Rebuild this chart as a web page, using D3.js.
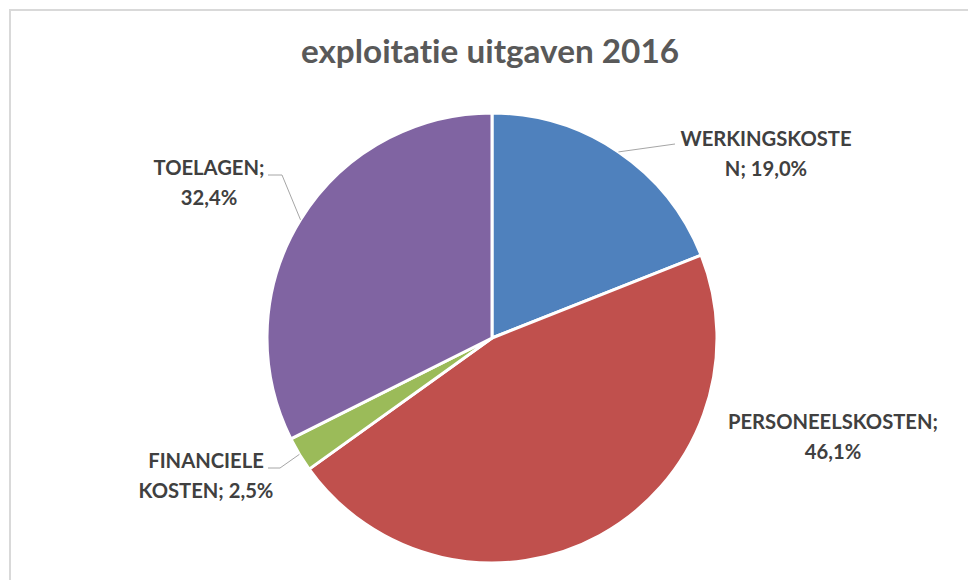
<!DOCTYPE html>
<html><head><meta charset="utf-8">
<script src="https://cdn.jsdelivr.net/npm/d3@7"></script>
<style>html,body{margin:0;padding:0;background:#fff;}svg{display:block;}text{font-variant-ligatures:none;font-feature-settings:"liga" 0,"clig" 0;}</style>
</head><body>
<svg id="chart" width="968" height="580"></svg>
<script>
const title = "exploitatie uitgaven 2016";
const categories = ["WERKINGSKOSTEN", "PERSONEELSKOSTEN", "FINANCIELE KOSTEN", "TOELAGEN"];
const values = [19.0, 46.1, 2.5, 32.4];
const colors = ["#4F81BD", "#C0504D", "#9BBB59", "#8064A2"];

// label layout: text center, first baseline, wrap index, leader elbow/end
const labelLayout = [
  {x: 766, y: 146, brk: 13, leader: [[675, 144]]},
  {x: 833, y: 429, brk: 17, leader: null},
  {x: 206, y: 468, brk: 10, leader: [[280, 468], [268, 468]]},
  {x: 209, y: 175, brk: 9, leader: [[282, 175], [268, 175]]}
];

const svg = d3.select("#chart");
const W = 968, H = 580;
const cx = 492, cy = 338, R = 225;

svg.append("rect").attr("x", 10).attr("y", 10).attr("width", W + 10).attr("height", H + 10)
  .attr("fill", "#fff").attr("stroke", "#d9d9d9").attr("stroke-width", 2);

svg.append("text").attr("x", 490).attr("y", 63).attr("text-anchor", "middle")
  .attr("font-family", "Lato, 'Open Sans', sans-serif").attr("font-weight", "bold")
  .attr("font-size", 33.3).attr("fill", "#595959").text(title);

const pie = d3.pie().sort(null).value(d => d)(values);
const arc = d3.arc().innerRadius(0).outerRadius(R);
const g = svg.append("g").attr("transform", `translate(${cx},${cy})`);
g.selectAll("path").data(pie).join("path")
  .attr("d", arc).attr("fill", (d, i) => colors[i])
  .attr("stroke", "#fff").attr("stroke-width", 3).attr("stroke-linejoin", "round");

const fmt = v => d3.format(".1f")(v).replace(".", ",") + "%";

pie.forEach((d, i) => {
  const L = labelLayout[i];
  const full = categories[i] + "; " + fmt(values[i]);
  const lines = [full.slice(0, L.brk).trim(), full.slice(L.brk).trim()];
  if (L.leader) {
    const a = (d.startAngle + d.endAngle) / 2;
    const pts = [[cx + R * Math.sin(a), cy - R * Math.cos(a)], ...L.leader];
    svg.append("path").attr("d", d3.line()(pts)).attr("fill", "none")
      .attr("stroke", "#a6a6a6").attr("stroke-width", 1);
  }
  const t = svg.append("text").attr("text-anchor", "middle")
    .attr("font-family", "Lato, 'Open Sans', sans-serif").attr("font-weight", "bold")
    .attr("font-size", 20.2).attr("fill", "#404040");
  lines.forEach((ln, k) => t.append("tspan").attr("x", L.x).attr("y", L.y + k * 29.5).text(ln));
});
</script>
</body></html>
